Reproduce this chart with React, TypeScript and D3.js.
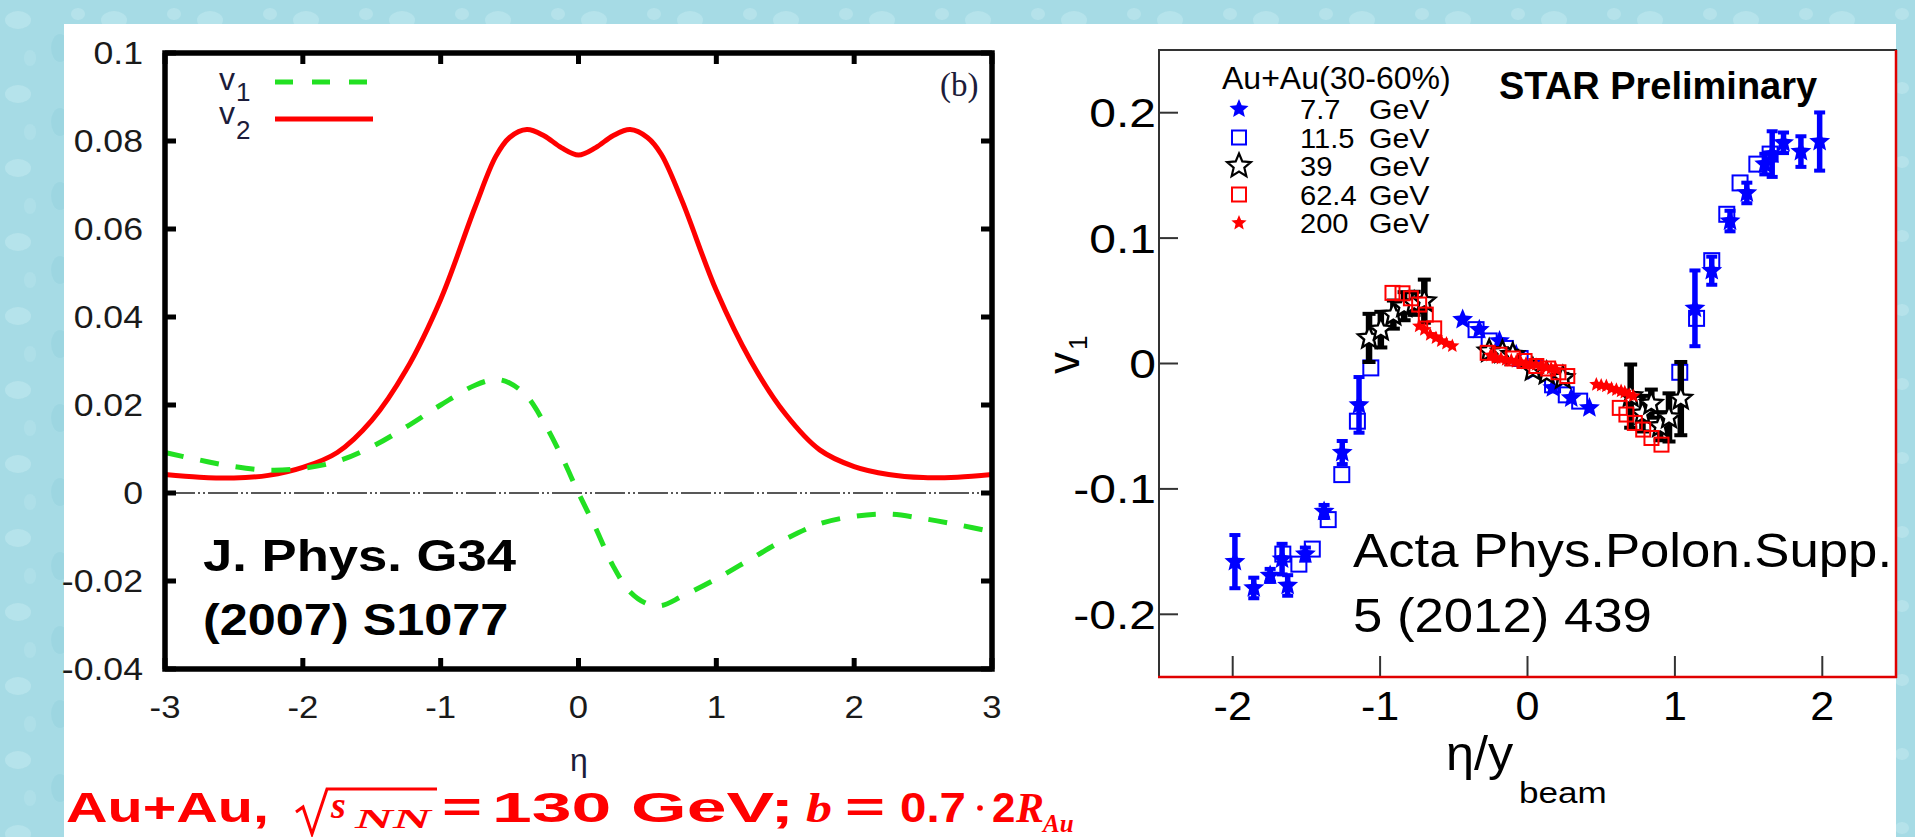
import React from 'react';
import * as d3 from 'd3';

const SANS = '"Liberation Sans", Arial, Helvetica, sans-serif';
const SERIF = '"Liberation Serif", "Times New Roman", serif';

// ---------- Left panel: model curves (J. Phys. G34 (2007) S1077) ----------
const etaGrid = [-3, -2.75, -2.5, -2.25, -2, -1.75, -1.5, -1.25, -1, -0.75, -0.6, -0.5, -0.375, -0.25, -0.125, 0, 0.125, 0.25, 0.375, 0.5, 0.6, 0.75, 1, 1.25, 1.5, 1.75, 2, 2.25, 2.5, 2.75, 3];
const v2Model = [0.0042, 0.0036, 0.0034, 0.004, 0.0058, 0.0092, 0.0165, 0.028, 0.044, 0.065, 0.0765, 0.0808, 0.0826, 0.0812, 0.0785, 0.0768, 0.0785, 0.0812, 0.0826, 0.0808, 0.077, 0.0665, 0.046, 0.03, 0.018, 0.0098, 0.006, 0.0042, 0.0035, 0.0036, 0.0042];
const v1Model = [0.0092, 0.0075, 0.006, 0.0052, 0.0056, 0.0072, 0.0105, 0.015, 0.02, 0.0245, 0.0258, 0.025, 0.022, 0.016, 0.0085, 0.0, -0.008, -0.0165, -0.0225, -0.0252, -0.0256, -0.0235, -0.0195, -0.015, -0.0105, -0.007, -0.0053, -0.0048, -0.0058, -0.0072, -0.0088];
const leftYTicks = [0.1, 0.08, 0.06, 0.04, 0.02, 0, -0.02, -0.04];
const leftYTickLabels = ['0.1', '0.08', '0.06', '0.04', '0.02', '0', '-0.02', '-0.04'];
const leftXTicks = [-3, -2, -1, 0, 1, 2, 3];

// ---------- Right panel: STAR v1 vs eta/ybeam ----------
const x77 = [-1.985, -1.857, -1.746, -1.665, -1.627, -1.507, -1.38, -1.257, -1.143, -0.44, -0.327, -0.19, -0.077, 0.045, 0.172, 0.297, 0.42, 1.136, 1.25, 1.374, 1.488, 1.61, 1.66, 1.737, 1.855, 1.982];
const y77 = [-0.158, -0.179, -0.169, -0.156, -0.177, -0.152, -0.118, -0.071, -0.033, 0.035, 0.027, 0.018, 0.007, -0.006, -0.0195, -0.0275, -0.0354, 0.044, 0.074, 0.1136, 0.136, 0.159, 0.167, 0.176, 0.169, 0.177];
const e77 = [0.022, 0.009, 0.006, 0.013, 0.009, 0.006, 0.006, 0.01, 0.023, 0, 0, 0, 0, 0, 0, 0, 0, 0.031, 0.012, 0.009, 0.009, 0.009, 0.019, 0.009, 0.013, 0.024];

const x115 = [-1.66, -1.551, -1.46, -1.352, -1.26, -1.154, -1.063, -0.349, -0.26, -0.15, -0.05, 0.05, 0.17, 0.263, 0.354, 1.033, 1.147, 1.25, 1.352, 1.442, 1.556, 1.646];
const y115 = [-0.152, -0.16, -0.148, -0.1245, -0.0886, -0.046, -0.0035, 0.027, 0.018, 0.012, 0.004, -0.004, -0.017, -0.025, -0.03, -0.007, 0.036, 0.082, 0.119, 0.144, 0.159, 0.167];

const x39 = [-1.075, -0.995, -0.91, -0.837, -0.769, -0.7, -0.26, -0.17, -0.1, 0.036, 0.13, 0.24, 0.7, 0.78, 0.84, 0.9, 0.96, 1.04];
const y39 = [0.0204, 0.027, 0.039, 0.0457, 0.048, 0.0497, 0.0098, 0.009, 0.007, -0.005, -0.008, -0.0115, -0.026, -0.04, -0.032, -0.05, -0.043, -0.028];
const e39 = [0.02, 0.015, 0.012, 0.012, 0.01, 0.018, 0.004, 0.004, 0.004, 0.004, 0.004, 0.004, 0.026, 0.015, 0.012, 0.012, 0.02, 0.03];

const x624 = [-0.916, -0.848, -0.791, -0.735, -0.69, -0.633, -0.27, -0.19, -0.1, -0.02, 0.06, 0.14, 0.21, 0.27, 0.626, 0.671, 0.728, 0.785, 0.841, 0.909];
const y624 = [0.0563, 0.056, 0.052, 0.047, 0.039, 0.028, 0.0085, 0.007, 0.004, 0.002, -0.002, -0.004, -0.007, -0.01, -0.0354, -0.0407, -0.0474, -0.0527, -0.0594, -0.0647];

const x200 = [-0.735, -0.7, -0.66, -0.621, -0.585, -0.55, -0.51, -0.25, -0.213, -0.18, -0.145, -0.11, -0.077, -0.045, -0.01, 0.025, 0.058, 0.09, 0.127, 0.16, 0.195, 0.467, 0.5, 0.535, 0.57, 0.603, 0.635, 0.66, 0.69, 0.717];
const y200 = [0.0298, 0.027, 0.023, 0.0204, 0.018, 0.016, 0.014, 0.0065, 0.0045, 0.004, 0.003, 0.0025, 0.0015, 0.001, 0, -0.0005, -0.001, -0.002, -0.003, -0.004, -0.005, -0.0168, -0.0175, -0.018, -0.02, -0.021, -0.022, -0.023, -0.025, -0.026];

const rightYTicks = [0.2, 0.1, 0, -0.1, -0.2];
const rightYTickLabels = ['0.2', '0.1', '0', '-0.1', '-0.2'];
const rightXTicks = [-2, -1, 0, 1, 2];
const legendEnergies = ['7.7', '11.5', '39', '62.4', '200'];

function starPath(r: number, inner = 0.45) {
  const pts: [number, number][] = [];
  for (let i = 0; i < 10; i++) {
    const rad = i % 2 === 0 ? r : r * inner;
    const a = -Math.PI / 2 + (i * Math.PI) / 5;
    pts.push([rad * Math.cos(a), rad * Math.sin(a)]);
  }
  return 'M' + pts.map((p) => p[0].toFixed(2) + ',' + p[1].toFixed(2)).join('L') + 'Z';
}

function T(props: any) {
  const { x, y, sx = 1, size, anchor = 'start', weight = 'normal', fill = '#000', family = SANS, fstyle = 'normal', children } = props;
  return (
    <g transform={`translate(${x},${y}) scale(${sx},1)`}>
      <text x={0} y={0} fontSize={size} textAnchor={anchor} fontWeight={weight} fill={fill} fontFamily={family} fontStyle={fstyle}>
        {children}
      </text>
    </g>
  );
}

export default function App() {
  const W = 1915, H = 837;
  const xL = d3.scaleLinear().domain([-3, 3]).range([165, 992]);
  const yL = d3.scaleLinear().domain([-0.04, 0.1]).range([669, 53]);
  const lineL = (vals: number[]) =>
    d3.line<number>().x((_, i) => xL(etaGrid[i])).y((d) => yL(d)).curve(d3.curveCatmullRom.alpha(0.5))(vals) || '';
  const xR = d3.scaleLinear().domain([-2.5, 2.5]).range([1159, 1896]);
  const yR = d3.scaleLinear().domain([-0.25, 0.25]).range([677, 50]);

  const blue = '#0000ff', red = '#ff0000';
  const navy = '#1c1c3a';

  const errBar = (x: number, y: number, e: number, color: string, w: number, key: string) => {
    if (!e) return null;
    const px = xR(x), y1 = yR(y + e), y2 = yR(y - e);
    return (
      <g key={key} fill={color}>
        <rect x={px - w / 2} y={y1} width={w} height={y2 - y1} />
        <rect x={px - w} y={y1 - 1} width={w * 2} height={4} />
        <rect x={px - w} y={y2 - 3} width={w * 2} height={4} />
      </g>
    );
  };

  const star77 = starPath(11);
  const star39 = starPath(11.5);
  const star200 = starPath(7.5);

  return (
    <svg width={W} height={H} style={{ position: 'absolute', left: 0, top: 0 }} xmlns="http://www.w3.org/2000/svg">
      <defs>
        <pattern id="drops" width="96" height="74" patternUnits="userSpaceOnUse">
          <rect width="96" height="74" fill="#a6dbe5" />
          <ellipse cx="18" cy="20" rx="13" ry="9" fill="#bfe8ef" opacity="0.6" />
          <ellipse cx="60" cy="48" rx="9" ry="14" fill="#93d1dd" opacity="0.5" />
          <ellipse cx="78" cy="14" rx="7" ry="6" fill="#c4eaf0" opacity="0.5" />
          <ellipse cx="30" cy="58" rx="6" ry="8" fill="#b6e4ec" opacity="0.5" />
        </pattern>
      </defs>
      <rect x={0} y={0} width={W} height={H} fill="url(#drops)" />
      <rect x={64} y={24} width={1832} height={H - 24} fill="#ffffff" />

      {/* ================= LEFT PANEL ================= */}
      <g>
        <line x1={xL(-3)} x2={xL(3)} y1={yL(0)} y2={yL(0)} stroke="#222" strokeWidth={1.6} strokeDasharray="30,3,2,3,2,3" />
        <path d={lineL(v2Model)} fill="none" stroke={red} strokeWidth={5} />
        <path d={lineL(v1Model)} fill="none" stroke="#22e022" strokeWidth={5} strokeDasharray="19,17" />
        {leftYTicks.map((t, i) => (
          <g key={'ly' + i} stroke="#000" strokeWidth={5}>
            <line x1={165} x2={176} y1={yL(t)} y2={yL(t)} />
            <line x1={992} x2={981} y1={yL(t)} y2={yL(t)} />
          </g>
        ))}
        {leftXTicks.map((t, i) => (
          <g key={'lx' + i} stroke="#000" strokeWidth={5}>
            <line x1={xL(t)} x2={xL(t)} y1={53} y2={64} />
            <line x1={xL(t)} x2={xL(t)} y1={669} y2={658} />
          </g>
        ))}
        <rect x={165} y={53} width={827} height={616} fill="none" stroke="#000" strokeWidth={5.5} />
        {leftYTicks.map((t, i) => (
          <T key={'lyl' + i} x={143} y={yL(t) + 11} size={31} sx={1.15} anchor="end" fill="#1a1a1a">
            {leftYTickLabels[i]}
          </T>
        ))}
        {leftXTicks.map((t, i) => (
          <T key={'lxl' + i} x={xL(t)} y={718} size={31} sx={1.12} anchor="middle" fill="#1a1a1a">
            {String(t)}
          </T>
        ))}
        <T x={579} y={771} size={32} anchor="middle" fill={navy}>η</T>
        <T x={219} y={90} size={32} fill={navy}>v</T>
        <T x={236} y={101} size={26} fill={navy}>1</T>
        <T x={219} y={124} size={32} fill={navy}>v</T>
        <T x={236} y={139} size={26} fill={navy}>2</T>
        <line x1={275} x2={368} y1={82} y2={82} stroke="#22e022" strokeWidth={5} strokeDasharray="18,19" />
        <line x1={275} x2={373} y1={119} y2={119} stroke={red} strokeWidth={5} />
        <T x={940} y={96} size={33} family={SERIF} fill={navy}>(b)</T>
        <T x={203} y={571} size={45} weight="bold" sx={1.17}>J. Phys. G34</T>
        <T x={203} y={635} size={45} weight="bold" sx={1.12}>(2007) S1077</T>
      </g>

      {/* ================= RIGHT PANEL ================= */}
      <g>
        {x77.map((x, i) => errBar(x, y77[i], e77[i], blue, 5.5, 'e77' + i))}
        {x115.map((x, i) => (
          <rect key={'s115' + i} x={xR(x) - 7.5} y={yR(y115[i]) - 7.5} width={15} height={15} fill="none" stroke={blue} strokeWidth={2} />
        ))}
        {x77.map((x, i) => (
          <path key={'p77' + i} d={star77} transform={`translate(${xR(x)},${yR(y77[i])})`} fill={blue} />
        ))}
        {x39.map((x, i) => errBar(x, y39[i], e39[i], '#000', 6.5, 'e39' + i))}
        {x39.map((x, i) => (
          <path key={'p39' + i} d={star39} transform={`translate(${xR(x)},${yR(y39[i])})`} fill="#fff" stroke="#000" strokeWidth={2.4} />
        ))}
        {x624.map((x, i) => (
          <rect key={'s624' + i} x={xR(x) - 7} y={yR(y624[i]) - 7} width={14} height={14} fill="none" stroke={red} strokeWidth={2} />
        ))}
        {x200.map((x, i) => (
          <path key={'p200' + i} d={star200} transform={`translate(${xR(x)},${yR(y200[i])})`} fill={red} />
        ))}

        {rightYTicks.map((t, i) => (
          <line key={'ryt' + i} x1={1159} x2={1178} y1={yR(t)} y2={yR(t)} stroke="#333" strokeWidth={2} />
        ))}
        {rightXTicks.map((t, i) => (
          <line key={'rxt' + i} x1={xR(t)} x2={xR(t)} y1={677} y2={656} stroke="#333" strokeWidth={2} />
        ))}
        <rect x={1159} y={50} width={737} height={627} fill="none" stroke="#333" strokeWidth={2} />
        <line x1={1896} x2={1896} y1={50} y2={678} stroke="#e00000" strokeWidth={2.5} />
        <line x1={1158} x2={1897} y1={677} y2={677} stroke="#e00000" strokeWidth={2.5} />

        {rightYTicks.map((t, i) => (
          <T key={'ryl' + i} x={1156} y={yR(t) + 14.5} size={40} sx={1.2} anchor="end">
            {rightYTickLabels[i]}
          </T>
        ))}
        {rightXTicks.map((t, i) => (
          <T key={'rxl' + i} x={xR(t)} y={720} size={41} sx={1.05} anchor="middle">
            {String(t)}
          </T>
        ))}
        <T x={1446} y={770} size={48} sx={1.05}>η/y</T>
        <T x={1519} y={803} size={30} sx={1.17}>beam</T>
        <g transform="translate(1079,374) rotate(-90)">
          <text x={0} y={0} fontSize={44} fontFamily={SANS} fill="#000">v</text>
          <text x={24} y={8} fontSize={26} fontFamily={SANS} fill="#000">1</text>
        </g>

        <T x={1222} y={89} size={32}>Au+Au(30-60%)</T>
        {legendEnergies.map((e, i) => {
          const by = 118 + i * 28.5;
          const cy = by - 9;
          let marker: any = null;
          if (i === 0) marker = <path d={starPath(10)} transform={`translate(1239,${cy})`} fill={blue} />;
          if (i === 1) marker = <rect x={1232} y={cy - 7} width={14} height={14} fill="none" stroke={blue} strokeWidth={2} />;
          if (i === 2) marker = <path d={starPath(12.5)} transform={`translate(1239,${cy})`} fill="#fff" stroke="#000" strokeWidth={2.2} />;
          if (i === 3) marker = <rect x={1232} y={cy - 7} width={14} height={14} fill="none" stroke={red} strokeWidth={2} />;
          if (i === 4) marker = <path d={starPath(8)} transform={`translate(1239,${cy})`} fill={red} />;
          return (
            <g key={'leg' + i}>
              {marker}
              <T x={1300} y={by + 1} size={28} sx={1.04}>{e}</T>
              <T x={1369} y={by + 1} size={28} sx={1.08}>GeV</T>
            </g>
          );
        })}
        <T x={1499} y={99} size={38} weight="bold">STAR Preliminary</T>
        <T x={1353} y={567} size={49} sx={1.076}>Acta Phys.Polon.Supp.</T>
        <T x={1353} y={632} size={49} sx={1.076}>5 (2012) 439</T>
      </g>

      {/* ================= bottom caption ================= */}
      <g fill={red}>
        <text x={66} y={822} fontSize={42} fontWeight="bold" fontFamily={SANS} textLength={203} lengthAdjust="spacingAndGlyphs">Au+Au,</text>
        <path d="M296,812 L303,807 L312,834 L327,789 L437,789" fill="none" stroke={red} strokeWidth={3} />
        <text x={331} y={818} fontSize={38} fontStyle="italic" fontFamily={SERIF} fontWeight="bold">s</text>
        <text x={355} y={828} fontSize={27} fontStyle="italic" fontFamily={SERIF} fontWeight="bold" textLength={76} lengthAdjust="spacingAndGlyphs">NN</text>
        <text x={442} y={822} fontSize={42} fontWeight="bold" fontFamily={SANS} textLength={40} lengthAdjust="spacingAndGlyphs">=</text>
        <text x={492} y={822} fontSize={42} fontWeight="bold" fontFamily={SANS} textLength={302} lengthAdjust="spacingAndGlyphs">130 GeV;</text>
        <text x={806} y={822} fontSize={42} fontStyle="italic" fontFamily={SERIF} fontWeight="bold" textLength={26} lengthAdjust="spacingAndGlyphs">b</text>
        <text x={845} y={822} fontSize={42} fontWeight="bold" fontFamily={SANS} textLength={40} lengthAdjust="spacingAndGlyphs">=</text>
        <text x={900} y={822} fontSize={42} fontWeight="bold" fontFamily={SANS} textLength={66} lengthAdjust="spacingAndGlyphs">0.7</text>
        <circle cx={980} cy={808} r={2.8} />
        <text x={992} y={822} fontSize={42} fontWeight="bold" fontFamily={SANS}>2</text>
        <text x={1016} y={822} fontSize={42} fontStyle="italic" fontFamily={SERIF} fontWeight="bold">R</text>
        <text x={1043} y={832} fontSize={25} fontStyle="italic" fontFamily={SERIF} fontWeight="bold">Au</text>
      </g>
    </svg>
  );
}
